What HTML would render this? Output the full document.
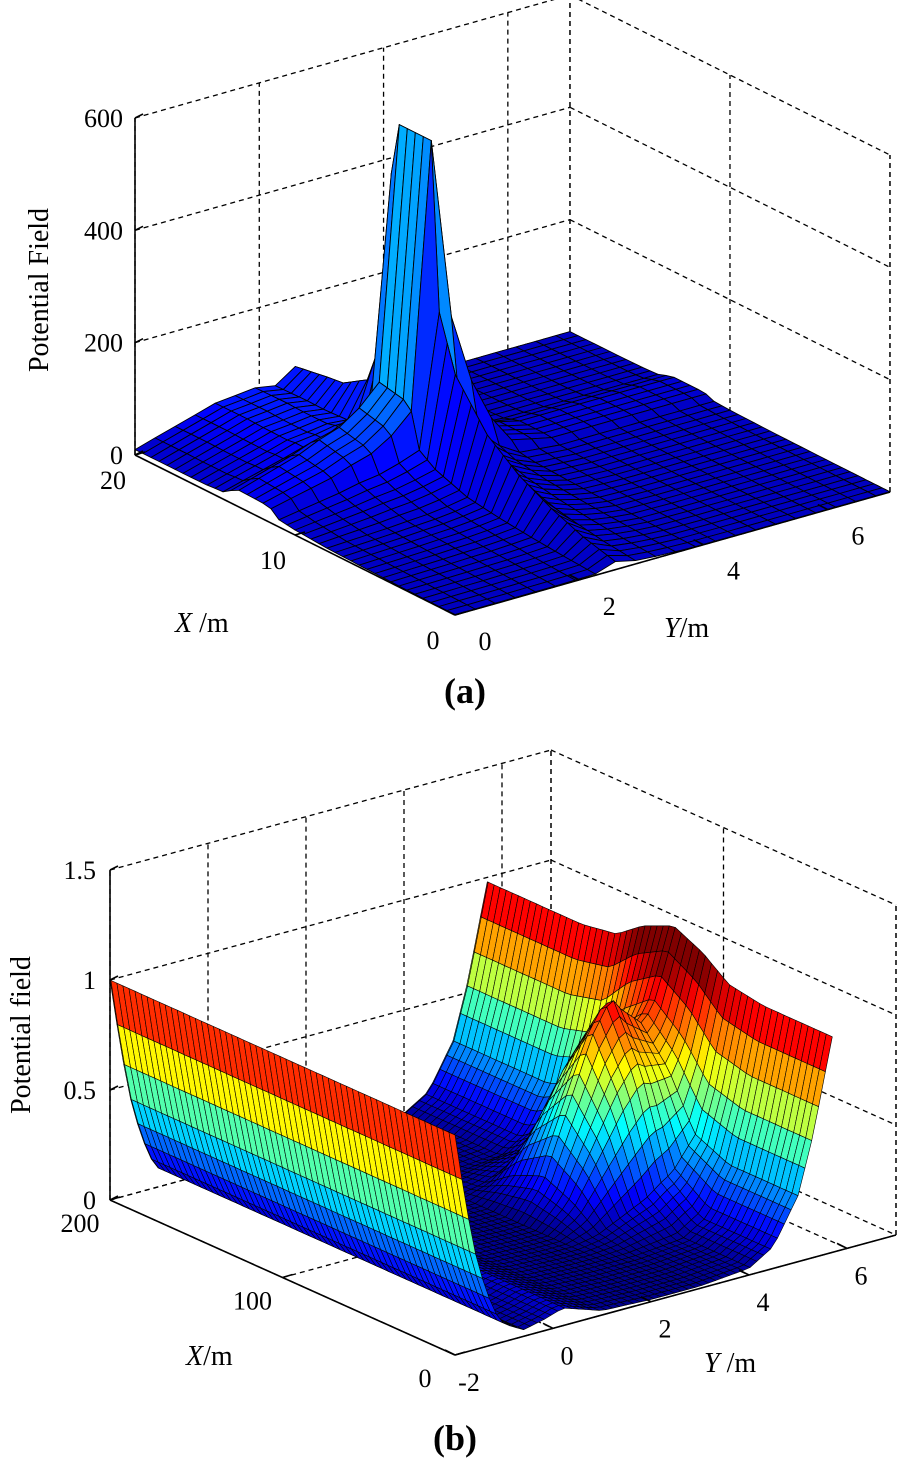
<!DOCTYPE html>
<html><head><meta charset="utf-8"><style>
html,body{margin:0;padding:0;background:#fff;}
svg{display:block;font-family:"Liberation Serif",serif;}
</style></head><body>
<svg id="fig" width="902" height="1462" viewBox="0 0 902 1462" xmlns="http://www.w3.org/2000/svg">
<g id="plotA"></g>
<g id="plotB"></g>
<text x="465" y="703" font-size="36" font-weight="bold" text-anchor="middle">(a)</text>
<text x="455" y="1450" font-size="36" font-weight="bold" text-anchor="middle">(b)</text>
</svg>
<script>
// ---- Plot (a) data ----
const aXs = [0,2,4,6,8,10,11,11.6,13.6,14.5,15.5,17,20];
const aXp = [0.02,0.04,0.07,0.11,0.17,0.27,0.4,1,1,0.25,0.12,0.08,0.06];
const aYs = [0,1,1.6,1.94,2.26,2.58,2.9,3.23,3.55,3.87,4.5,7];
const aYp = [0.04,0.06,0.09,0.13,0.2,1.2,0.5,0.28,0.14,0.05,0.02,0.02];
const aHumpXs = [0,8,12,15,18,20];
const aHumpXp = [0,0.1,0.5,0.9,1,1];
const aHumpYs = [0,0.6,1.3,2.0,2.6,3.2];
const aHumpYp = [0.15,0.5,0.9,1,0.6,0];
const aHumpAmp = 55;
const aZmax = 600;
const aZticks = [0,200,400,600];
const aXticks = [0,10,20];
const aYticks = [0,2,4,6];
// ---- Plot (b) data ----
const bWallYs = [-2,-1.8,-1.6,-1.4,-1.2,-1,-0.6,-0.2,0.2,0.6,1,2,3,4,4.5,5,5.3,5.7];
const bWallZ  = [1.0,0.7,0.45,0.28,0.15,0.08,0.03,0.05,0.08,0.05,0.02,0.01,0.01,0.03,0.1,0.3,0.55,0.98];
const bBumpXs = [0,40,60,75,92,110,125,145,200];
const bBumpXp = [0,0,0.15,0.65,1,0.65,0.15,0,0];
const bBumpYs = [-2,2.5,3,3.5,4,4.4,4.8,5.2,5.7];
const bBumpYp = [0,0,0.15,0.45,0.75,0.85,0.6,0.35,0.18];
const bZticks = [0,0.5,1,1.5];
const bXticks = [0,100,200];
const bYticks = [-2,0,2,4,6];

const NS="http://www.w3.org/2000/svg";
function interp(xs,ys,x){
  if(x<=xs[0])return ys[0];
  for(let i=1;i<xs.length;i++){ if(x<=xs[i]){const t=(x-xs[i-1])/(xs[i]-xs[i-1]);return ys[i-1]+t*(ys[i]-ys[i-1]);} }
  return ys[ys.length-1];
}
function jet(v){
  v=Math.max(0,Math.min(1,v));
  const r=Math.max(0,Math.min(1,Math.min(4*v-1.5,-4*v+4.5)));
  const g=Math.max(0,Math.min(1,Math.min(4*v-0.5,-4*v+3.5)));
  const b=Math.max(0,Math.min(1,Math.min(4*v+0.5,-4*v+2.5)));
  return `rgb(${Math.round(r*255)},${Math.round(g*255)},${Math.round(b*255)})`;
}
function mk(tag,attrs,parent){const e=document.createElementNS(NS,tag);for(const k in attrs)e.setAttribute(k,attrs[k]);parent.appendChild(e);return e;}

function makeAxes(cfg){
  return (X,Y,Z)=>[cfg.o[0]+cfg.ex[0]*(X-cfg.x0)+cfg.ey[0]*(Y-cfg.y0), cfg.o[1]+cfg.ex[1]*(X-cfg.x0)+cfg.ey[1]*(Y-cfg.y0)+cfg.ez*(Z-cfg.z0)];
}
function line(g,a,b,dash,name){
  const l=mk('line',{x1:a[0],y1:a[1],x2:b[0],y2:b[1],stroke:'#000','stroke-width':dash?1.3:1.6},g);
  if(dash)l.setAttribute('stroke-dasharray','5,4');
  
  
}
function txt(g,x,y,s,size,anchor,name){
  const t=mk('text',{x:x,y:y,'font-size':size,'text-anchor':anchor},g);
  t.textContent=s;
  
  
  return t;
}
function drawBox(g,P,c,xt,yt,zt){
  const [x0,x1,y0,y1,z0,z1]=[c.x0,c.x1,c.y0,c.y1,c.z0,c.z1];
  zt.forEach(z=>{ line(g,P(x1,y0,z),P(x1,y1,z),true,'grid-z'); line(g,P(x1,y1,z),P(x0,y1,z),true,'grid-z'); });
  yt.forEach(y=>{ line(g,P(x1,y,z0),P(x1,y,z1),true,'grid-y'); line(g,P(x1,y,z0),P(x0,y,z0),true,'grid-y-floor'); });
  xt.forEach(x=>{ line(g,P(x,y1,z0),P(x,y1,z1),true,'grid-x'); line(g,P(x,y0,z0),P(x,y1,z0),true,'grid-x-floor'); });
  line(g,P(x1,y1,z0),P(x1,y1,z1),true,'grid-corner');
  line(g,P(x0,y1,z0),P(x0,y1,z1),true,'grid-corner');
}
function drawSurface(g,P,xs,ys,f,cmin,cmax,sw){
  const cells=[];
  for(let i=0;i<xs.length-1;i++)for(let j=0;j<ys.length-1;j++){
    const pts=[[xs[i],ys[j]],[xs[i+1],ys[j]],[xs[i+1],ys[j+1]],[xs[i],ys[j+1]]];
    const zs=pts.map(p=>f(p[0],p[1]));
    const sp=pts.map((p,k)=>P(p[0],p[1],zs[k]));
    const depth=P((xs[i]+xs[i+1])/2,(ys[j]+ys[j+1])/2,0)[1];
    const zc=Math.min(zs[0],zs[1],zs[2],zs[3]);
    cells.push({sp,depth,zc});
  }
  cells.sort((a,b)=>a.depth-b.depth);
  cells.forEach(c=>{
    const p=mk('polygon',{points:c.sp.map(q=>q[0].toFixed(1)+','+q[1].toFixed(1)).join(' '),fill:jet((c.zc-cmin)/(cmax-cmin)),stroke:'#000','stroke-width':sw,'stroke-linejoin':'round'},g);
    
    
  });
}

// ---------- Plot A ----------
(function(){
  const g=document.getElementById('plotA');
  const c={o:[455,615],ex:[-16,-8],ey:[62.14,-17.57],ez:-0.5617,x0:0,y0:0,z0:0,x1:20,y1:7,z1:600};
  const P=makeAxes(c);
  drawBox(g,P,c,aXticks,aYticks,aZticks);
  const xs=[],ys=[];
  for(let k=0;k<=40;k++)xs.push(k*0.5);
  for(let k=0;k<=21;k++)ys.push(+(k*0.3225).toFixed(4));
  ys.push(7);
  drawSurface(g,P,xs,ys,(X,Y)=>Math.min(aZmax,aZmax*interp(aXs,aXp,X)*interp(aYs,aYp,Y)+aHumpAmp*interp(aHumpXs,aHumpXp,X)*interp(aHumpYs,aHumpYp,Y)),-40,600,0.9);
  line(g,P(20,0,0),P(20,0,600),false,'z-axis');
  line(g,P(20,0,0),P(0,0,0),false,'x-axis');
  line(g,P(0,0,0),P(0,7,0),false,'y-axis');
  aZticks.forEach(z=>{const p=P(20,0,z);line(g,p,[p[0]+8,p[1]-4],false,'z-tick');txt(g,p[0]-12,p[1]+9,String(z),26,'end','z-tick-label');});
  aXticks.forEach(x=>{const p=P(x,0,0);line(g,p,[p[0]+10,p[1]-3],false,'x-tick');txt(g,p[0]-22,p[1]+34,String(x),26,'middle','x-tick-label');});
  aYticks.forEach(y=>{const p=P(0,y,0);line(g,p,[p[0]-10,p[1]-5],false,'y-tick');txt(g,p[0]+30,p[1]+35,String(y),26,'middle','y-tick-label');});
  const xl=txt(g,175,632,'',28,'start','x-axis-title');
  xl.innerHTML='<tspan font-style="italic">X</tspan> /m';
  const yl=txt(g,664,637,'',28,'start','y-axis-title');
  yl.innerHTML='<tspan font-style="italic">Y</tspan>/m';
  const zl=txt(g,0,0,'Potential Field',28,'middle','z-axis-title');
  zl.setAttribute('transform','translate(48,290) rotate(-90)');
})();

// ---------- Plot B ----------
(function(){
  const g=document.getElementById('plotB');
  const c={o:[455,1355],ex:[-1.725,-0.775],ey:[49,-13.33],ez:-220,x0:0,y0:-2,z0:0,x1:200,y1:7,z1:1.5};
  const P=makeAxes(c);
  drawBox(g,P,c,bXticks,bYticks,bZticks);
  const xs=[],ys=[];
  for(let x=0;x<=200.001;x+=3.5)xs.push(x);
  if(xs[xs.length-1]<200)xs.push(200);
  for(let y=-2;y<=5.701;y+=0.14)ys.push(+y.toFixed(3));
  if(ys[ys.length-1]<5.7)ys.push(5.7);
  drawSurface(g,P,xs,ys,(X,Y)=>interp(bWallYs,bWallZ,Y)+interp(bBumpXs,bBumpXp,X)*interp(bBumpYs,bBumpYp,Y),0,0.95,0.6);
  line(g,P(200,-2,0),P(200,-2,1.5),false,'z-axis');
  line(g,P(200,-2,0),P(0,-2,0),false,'x-axis');
  line(g,P(0,-2,0),P(0,7,0),false,'y-axis');
  bZticks.forEach(z=>{const p=P(200,-2,z);line(g,p,[p[0]+8,p[1]-4],false,'z-tick');txt(g,p[0]-14,p[1]+9,String(z),26,'end','z-tick-label');});
  bXticks.forEach(x=>{const p=P(x,-2,0);line(g,p,[p[0]+10,p[1]-3],false,'x-tick');txt(g,p[0]-30,p[1]+32,String(x),26,'middle','x-tick-label');});
  bYticks.forEach(y=>{const p=P(0,y,0);line(g,p,[p[0]-10,p[1]-5],false,'y-tick');txt(g,p[0]+14,p[1]+36,String(y),26,'middle','y-tick-label');});
  const xl=txt(g,186,1365,'',28,'start','x-axis-title');
  xl.innerHTML='<tspan font-style="italic">X</tspan>/m';
  const yl=txt(g,704,1372,'',28,'start','y-axis-title');
  yl.innerHTML='<tspan font-style="italic">Y</tspan> /m';
  const zl=txt(g,0,0,'Potential field',28,'middle','z-axis-title');
  zl.setAttribute('transform','translate(30,1035) rotate(-90)');
})();
</script>
</body></html>
